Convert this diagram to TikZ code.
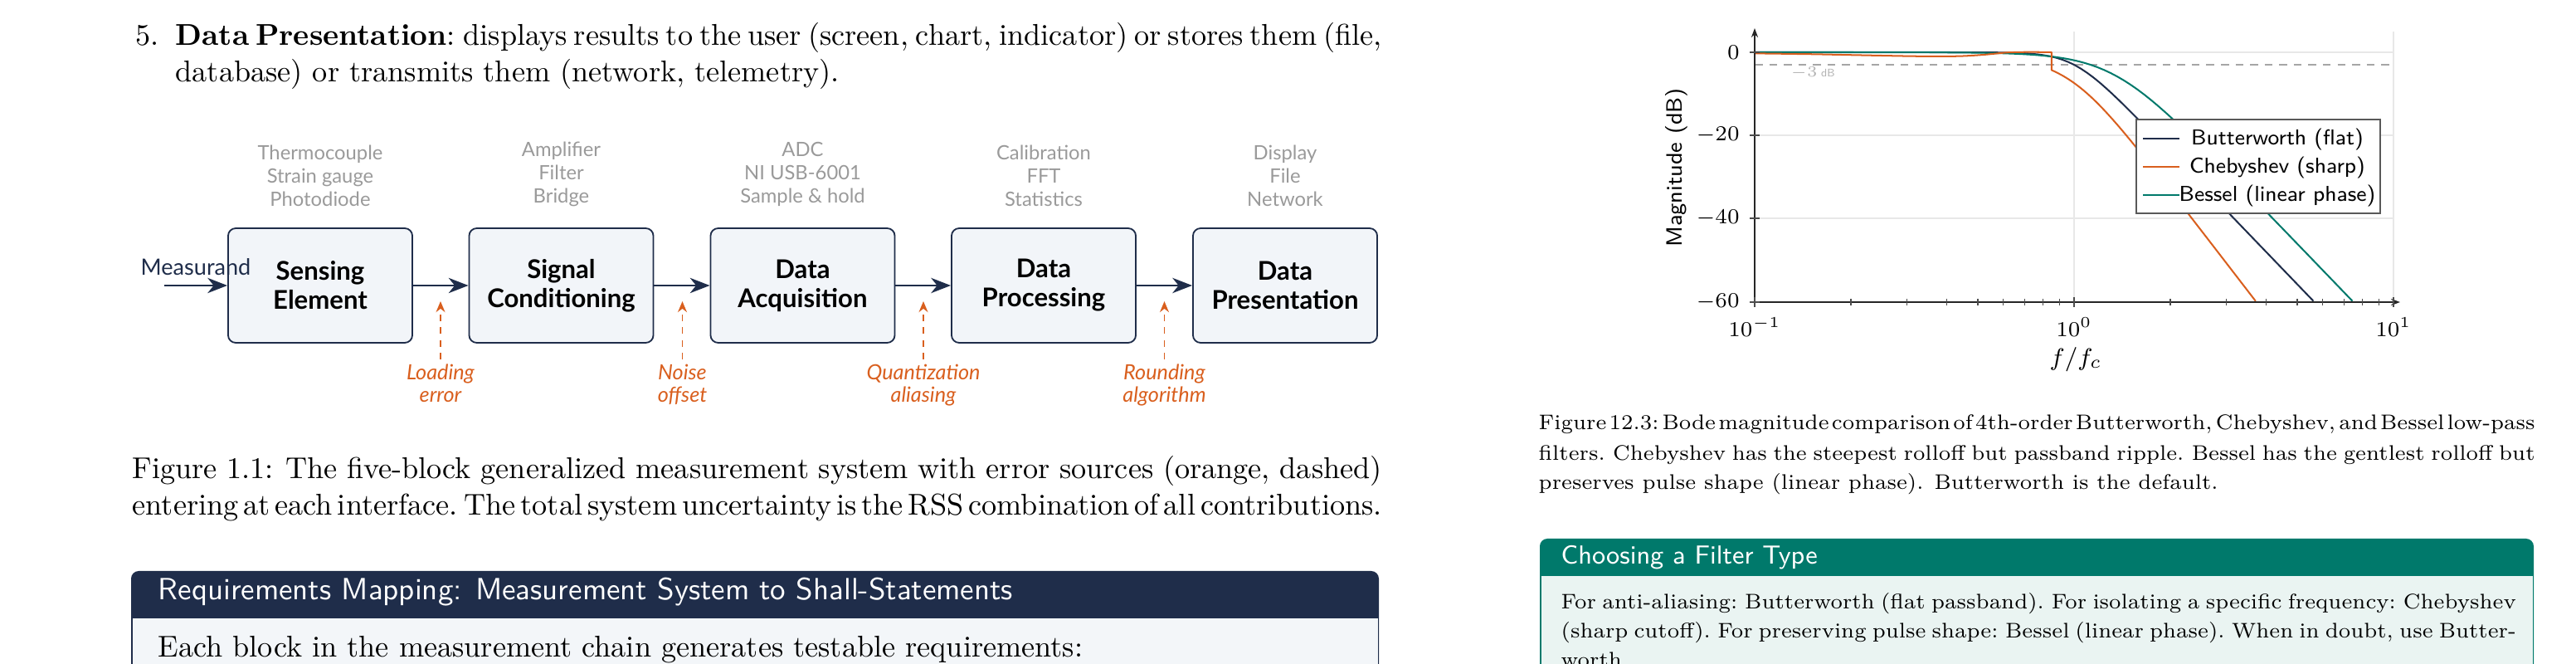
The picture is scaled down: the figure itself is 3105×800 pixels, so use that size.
\documentclass[tikz,border=0pt]{standalone}
\usepackage{fontspec}
\newfontfamily\lato{Lato}
\usetikzlibrary{arrows.meta}
\definecolor{navy}{HTML}{1F2D4A}
\definecolor{errorange}{HTML}{D95F1E}
\definecolor{tealc}{HTML}{00796B}
\definecolor{graytxt}{HTML}{9A9A9A}
\definecolor{boxfill}{HTML}{F2F5F9}
\definecolor{lbody}{HTML}{F3F6F9}
\definecolor{rbody}{HTML}{EAF4F2}
\definecolor{gridc}{HTML}{E8E8E8}
\newcommand\bodyL{\fontsize{9.9}{12}\selectfont}
\newcommand\bodyR{\fontsize{6.95}{9.84}\selectfont}
\newcommand\jline[2]{\makebox[#1][s]{\spaceskip=0.333em plus 1em minus 0.21em\xspaceskip=0.4em plus 1em minus 0.24em #2}}
\begin{document}
\begin{tikzpicture}[x=0.2733pt, y=-0.2733pt,
  declare function={
    bw(\t)=80*max(\t,0)+10*log10(exp(max(-18.4207*max(\t,0),-9))+exp(max(18.4207*(\t-max(\t,0)),-9)));
    bs(\t)=80*max(\t,0)+10*log10(exp(max(-18.4207*max(\t,0),-9))+0.453*exp(max(9.2103*\t-18.4207*max(\t,0),-9))+0.105*exp(max(18.4207*(\t-max(\t,0)),-9)));
    ch(\t)=100*max(\t,0)+10*log10(exp(max(-23.0259*max(\t,0),-9))+2.45*exp(max(9.2103*\t-23.0259*max(\t,0),-9))+2.05*exp(max(23.0259*(\t-max(\t,0)),-9)));
  },
  blockbox/.style={draw=navy, fill=boxfill, line width=0.5pt, rounded corners=2.5pt,
    minimum width=60.7pt, minimum height=37.7pt, align=center, inner sep=0pt,
    font=\lato\bfseries\fontsize{8.5}{9.6}\selectfont},
  flowarrow/.style={navy, line width=0.6pt, -{Stealth[length=6.5pt, width=5pt, inset=2pt]}},
  errarrow/.style={errorange, line width=0.4pt, dash pattern=on 2.2pt off 2pt,
    -{Stealth[length=3.6pt, width=3pt]}},
  graylabel/.style={text=graytxt, font=\lato\fontsize{6.5}{7.65}\selectfont, align=center,
    anchor=south, inner sep=2pt},
  errlabel/.style={text=errorange, font=\lato\itshape\fontsize{6.9}{7.4}\selectfont,
    align=center, anchor=north, inner sep=1.5pt},
  textline/.style={anchor=base west, inner sep=0pt},
  gridline/.style={gridc, line width=0.4pt},
  curve/.style={line width=0.55pt, line join=round},
  ticklab/.style={font=\fontsize{7.3}{8}\selectfont, inner sep=1pt},
  legtext/.style={font=\sffamily\fontsize{7.1}{8}\selectfont, anchor=base, inner sep=0pt},
]
\useasboundingbox (0,0) rectangle (3105,800);
\clip (0,0) rectangle (3105,800);

% ---------------- left page ----------------
\node[textline] (item5) at (163,55) {\bodyL 5.};
\node[textline] (itl1) at (211,55) {\bodyL\jline{397.4pt}{\textbf{Data Presentation}: displays results to the user (screen, chart, indicator) or stores them (file,}};
\node[textline] (itl2) at (211,99) {\bodyL database) or transmits them (network, telemetry).};

% block diagram
\node[blockbox] (b1) at (386,344) {Sensing\\Element};
\node[blockbox] (b2) at (676.5,344) {Signal\\Conditioning};
\node[blockbox] (b3) at (967.5,344) {Data\\Acquisition};
\node[blockbox] (b4) at (1258,344) {Data\\Processing};
\node[blockbox] (b5) at (1549,344) {Data\\Presentation};

\node[font=\lato\fontsize{7.4}{8}\selectfont, text=navy, anchor=base, inner sep=0pt] (meas) at (236,332) {Measurand};
\coordinate (min) at (198,344);
\draw[flowarrow] (min) -- (b1.west);
\draw[flowarrow] (b1.east) -- (b2.west);
\draw[flowarrow] (b2.east) -- (b3.west);
\draw[flowarrow] (b3.east) -- (b4.west);
\draw[flowarrow] (b4.east) -- (b5.west);

\node[graylabel] (g1) at (386,257) {Thermocouple\\Strain gauge\\Photodiode};
\node[graylabel] (g2) at (676.5,257) {Amplifier\\Filter\\Bridge};
\node[graylabel] (g3) at (967.5,257) {ADC\\NI USB-6001\\Sample \& hold};
\node[graylabel] (g4) at (1258,257) {Calibration\\FFT\\Statistics};
\node[graylabel] (g5) at (1549,257) {Display\\File\\Network};

\node[errlabel] (e1) at (531,433) {Loading\\error};
\node[errlabel] (e2) at (822.5,433) {Noise\\offset};
\node[errlabel] (e3) at (1113,433) {Quantization\\aliasing};
\node[errlabel] (e4) at (1403.5,433) {Rounding\\algorithm};
\coordinate (t1) at (531,363);
\coordinate (t2) at (822.5,363);
\coordinate (t3) at (1113,363);
\coordinate (t4) at (1403.5,363);
\draw[errarrow] (e1.north) -- (t1);
\draw[errarrow] (e2.north) -- (t2);
\draw[errarrow] (e3.north) -- (t3);
\draw[errarrow] (e4.north) -- (t4);

% caption
\node[textline] (capL1) at (159,577) {\bodyL\jline{411.6pt}{Figure 1.1: The five-block generalized measurement system with error sources (orange, dashed)}};
\node[textline] (capL2) at (159,621) {\bodyL\jline{411.6pt}{entering at each interface. The total system uncertainty is the RSS combination of all contributions.}};

% requirements box
\fill[navy, rounded corners=2.5pt] (158,688) rectangle (1662,850);
\fill[lbody] (159.5,745) rectangle (1660.5,850);
\node[textline, text=white] (reqtitle) at (190,723) {\sffamily\fontsize{10.1}{12}\selectfont Requirements Mapping: Measurement System to Shall-Statements};
\node[textline] (reqbody) at (190,792) {\bodyL Each block in the measurement chain generates testable requirements:};

% ---------------- right page ----------------
% grid
\draw[gridline] (2115,63) -- (2885,63);
\draw[gridline] (2115,163) -- (2885,163);
\draw[gridline] (2115,263) -- (2885,263);
\draw[gridline] (2500,38) -- (2500,364);
\draw[gridline] (2885,38) -- (2885,364);
% -3 dB line
\draw[gray!70, line width=0.4pt, dash pattern=on 2.6pt off 2.2pt] (2115,78) -- (2885,78);
\node[text=gray!60, font=\sffamily\fontsize{3.6}{4}\selectfont, inner sep=0pt] (m3db) at (2185,88) {$-3\,$dB};

% curves
\draw[navy, curve] plot[domain=-1:0.75, samples=90, variable=\u] ({2115+385*(\u+1)}, {63+5*bw(\u)});
\draw[tealc, curve] plot[domain=-1:0.8722, samples=90, variable=\u] ({2115+385*(\u+1)}, {63+5*bs(\u)});
\draw[errorange, curve] plot[smooth] coordinates {(2115,64.35) (2182.8,65.25) (2230.9,66.25) (2298.7,67.6) (2338.2,68) (2366.5,67.5) (2390.7,66) (2408.9,64.25) (2420.1,63.25) (2440.4,62.75) (2462.7,62.8) (2472.8,63)}
  -- plot[domain=-0.0706:0.5688, samples=70, variable=\u] ({2115+385*(\u+1)}, {63+5*ch(\u)});

% axes
\draw[black!85, line width=0.5pt, -{Stealth[length=3pt, width=2.2pt]}] (2115,364) -- (2893,364);
\draw[black!85, line width=0.5pt, -{Stealth[length=3pt, width=2.2pt]}] (2115,364) -- (2115,34);
\foreach \m in {2,...,9} {
  \draw[black!70, line width=0.35pt] ({2115+385*log10(\m)},360) -- ({2115+385*log10(\m)},368);
  \draw[black!70, line width=0.35pt] ({2500+385*log10(\m)},360) -- ({2500+385*log10(\m)},368);
}
\foreach \xx in {2115,2500,2885} \draw[black!70, line width=0.4pt] (\xx,358) -- (\xx,370);
\foreach \yy in {63,163,263,364} \draw[black!70, line width=0.4pt] (2109,\yy) -- (2121,\yy);

\node[ticklab, anchor=east] (y0) at (2101,63) {$0$};
\node[ticklab, anchor=east] (y20) at (2101,163) {$-20$};
\node[ticklab, anchor=east] (y40) at (2101,263) {$-40$};
\node[ticklab, anchor=east] (y60) at (2101,364) {$-60$};
\node[ticklab, anchor=north] (x1) at (2115,378) {$10^{-1}$};
\node[ticklab, anchor=north] (x2) at (2500,378) {$10^{0}$};
\node[ticklab, anchor=north] (x3) at (2885,378) {$10^{1}$};
\node[font=\fontsize{8}{9}\selectfont] (xlab) at (2502,433) {$f/f_c$};
\node[font=\sffamily\fontsize{7.3}{8}\selectfont, rotate=90] (ylab) at (2021,202) {Magnitude (dB)};

% legend
\node[draw=black!65, fill=white, line width=0.65pt, minimum width=80.4pt, minimum height=30.9pt, inner sep=0pt] (leg) at (2722,200.5) {};
\draw[navy, curve] (2583,167) -- (2627,167);
\draw[errorange, curve] (2583,201) -- (2627,201);
\draw[tealc, curve] (2583,235) -- (2627,235);
\node[legtext] (lg1) at (2745,175) {Butterworth (flat)};
\node[legtext] (lg2) at (2745,209) {Chebyshev (sharp)};
\node[legtext] (lg3) at (2745,243) {Bessel (linear phase)};

% caption
\node[textline] (capR1) at (1854,518) {\bodyR\jline{328.2pt}{Figure 12.3: Bode magnitude comparison of 4th-order Butterworth, Chebyshev, and Bessel low-pass}};
\node[textline] (capR2) at (1854,555) {\bodyR\jline{328.2pt}{filters. Chebyshev has the steepest rolloff but passband ripple. Bessel has the gentlest rolloff but}};
\node[textline] (capR3) at (1854,590) {\bodyR preserves pulse shape (linear phase). Butterworth is the default.};

% filter box
\fill[tealc, rounded corners=2.5pt] (1856,649) rectangle (3054,850);
\fill[rbody] (1857.5,694) rectangle (3052.5,850);
\node[textline, text=white] (ftitle) at (1881,680) {\sffamily\fontsize{8.6}{10}\selectfont Choosing a Filter Type};
\node[textline] (fb1) at (1881,734) {\bodyR\jline{314.6pt}{For anti-aliasing: Butterworth (flat passband). For isolating a specific frequency: Chebyshev}};
\node[textline] (fb2) at (1881,769) {\bodyR\jline{314.6pt}{(sharp cutoff). For preserving pulse shape: Bessel (linear phase). When in doubt, use Butter-}};
\node[textline] (fb3) at (1881,804) {\bodyR worth.};
\end{tikzpicture}
\end{document}
